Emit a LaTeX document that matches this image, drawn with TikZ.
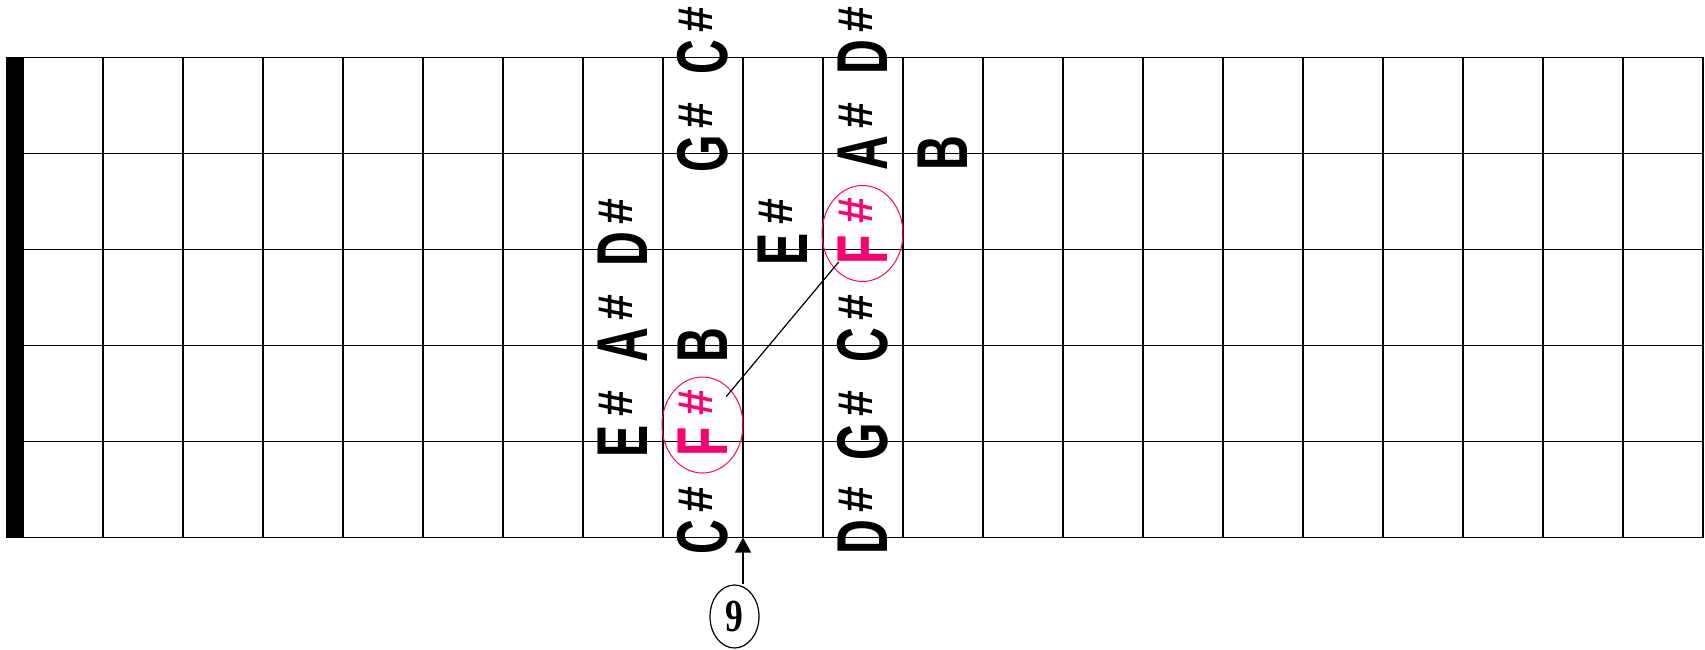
\documentclass[tikz,border=0pt]{standalone}
\usepackage{fontspec}
\usetikzlibrary{calc,shapes.geometric,arrows.meta}
\newfontfamily\notefont{Liberation Sans}
\newfontfamily\numfont{Liberation Serif}
\definecolor{notepink}{RGB}{255,0,110}
\newcommand\NL[1]{\scalebox{0.67}[1]{#1}}
\newcommand\NS{\scalebox{0.95}[1]{\#}}
\begin{document}
\begin{tikzpicture}[x=1pt,y=-1pt,
  gridline/.style={line width=1.8pt,line cap=rect},
  notelet/.style={rotate=90,inner sep=0pt,font=\notefont\bfseries\fontsize{72}{72}\selectfont},
  notesharp/.style={rotate=90,inner sep=0pt,font=\notefont\bfseries\fontsize{49}{49}\selectfont},
  ring/.style={ellipse,draw=notepink,line width=1pt,minimum width=81pt,minimum height=96pt,inner sep=0pt},
  fretmark/.style={ellipse,draw,line width=1.2pt,minimum width=49pt,minimum height=63pt,inner sep=0pt,font=\numfont\bfseries\fontsize{46}{46}\selectfont}
]
\useasboundingbox (0,0) rectangle (1705,650);
% grid
\foreach \i in {0,...,21} \draw[gridline] (23+80*\i,57.5) -- (23+80*\i,537.5);
\foreach \j in {0,...,5} \draw[gridline] (23,57.5+96*\j) -- (1703,57.5+96*\j);
\fill (6,56.6) rectangle (24,538.4);
% sharp notes
\foreach \fc/\fs/\fl in {8/5/E, 8/4/A, 8/3/D, 9/6/C, 9/2/G, 9/1/C, 10/3/E, 11/6/D, 11/5/G, 11/4/C, 11/2/A, 11/1/D} {
  \node[notelet] (n\fc-\fs) at (80*\fc-17, 57.5+96*\fs-96) {\NL{\fl}};
  \node[notesharp] (s\fc-\fs) at ($(n\fc-\fs)+(-7.5,-38)$) {\NS};
}
% natural notes
\node[notelet] (n9-4) at (703,345.5) {\NL{B}};
\node[notelet] (n12-2) at (943,153.5) {\NL{B}};
% root notes
\node[notelet,text=notepink] (n9-5) at (703,441.5) {\NL{F}};
\node[notesharp,text=notepink] (s9-5) at ($(n9-5)+(-7.5,-39)$) {\NS};
\node[notelet,text=notepink] (n11-3) at (863,249.5) {\NL{F}};
\node[notesharp,text=notepink] (s11-3) at ($(n11-3)+(-7.5,-39)$) {\NS};
\node[ring] (e1) at (702.5,425) {};
\node[ring] (e2) at (862.5,233.5) {};
\draw[line width=1.2pt,shorten <=37pt,shorten >=37pt] (e1.center) -- (e2.center);
% fret marker
\node[fretmark] (nine) at (734.5,616.5) {\scalebox{0.77}[1]{9}};
\coordinate (f9) at (743,537.5);
\draw[line width=1.3pt,-{Triangle[length=15pt,width=16pt]}] (nine.north -| f9) -- (f9);
\end{tikzpicture}
\end{document}
